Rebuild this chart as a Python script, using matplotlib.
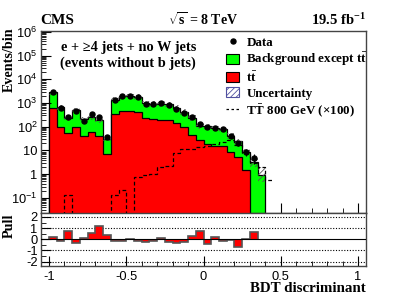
import numpy as np
import matplotlib
matplotlib.use("Agg")
import matplotlib.pyplot as plt
from matplotlib.ticker import FixedLocator, FixedFormatter, MultipleLocator, LogLocator, NullFormatter
from matplotlib.patches import Patch
from matplotlib.lines import Line2D

plt.rcParams['font.family'] = ['Liberation Sans', 'DejaVu Sans']
plt.rcParams['axes.unicode_minus'] = False
plt.rcParams['mathtext.fontset'] = 'custom'
plt.rcParams['mathtext.rm'] = 'Liberation Serif:bold'
plt.rcParams['mathtext.bf'] = 'Liberation Serif:bold'
plt.rcParams['mathtext.it'] = 'Liberation Serif:bold:italic'
plt.rcParams['hatch.linewidth'] = 0.6

# ---- data (bins of width 0.05 starting at -1) ----
bin_width = 0.05
x_start = -1.0
ttbar = [600, 95, 53, 98, 42, 62, 42, 7, 340, 470, 460, 440, 235, 215, 200, 188,
         145, 95, 47, 29, 19, 16, 16, 9, 5.5, 1.5, 0, 0, 0]
other_bkg = [2250, 595, 187, 412, 168, 208, 153, 25, 1060, 1480, 1490, 1410, 765, 735,
             750, 712, 505, 335, 198, 83, 91, 72, 66, 33, 18.5, 7.5, 3.2, 0.93, 0]
data = [2800, 600, 265, 480, 183, 330, 250, 38, 1350, 1900, 1980, 1780, 920, 910, 980,
        840, 580, 390, 262, 132, 98, 92, 78, 41, 20, 9, 5, 0, 0]
unc_up = [0.25] * 26 + [0.5, 1.25, 0]
unc_dn = [0.25] * 26 + [0.4, 0.5, 0]
signal_x100 = [0, 0, 0.13, 0, 0, 0, 0, 0, 0.13, 0.21, 0, 0.79, 0.95, 1.0, 1.95, 2.2,
               7.5, 11.5, 11.7, 13.5, 15.5, 18.7, 23, 28, 17, 8, 3, 2.1, 0.55]
pull = [0.18, -0.2, 0.76, -0.36, 0.15, 0.6, 1.18, 0.4, -0.12, -0.15, 0.05, -0.12, -0.27,
        -0.12, 0.12, -0.24, -0.33, -0.27, 0.27, 0.7, -0.45, 0.24, -0.15, -0.06, -0.7,
        0.0, 0.64]

ytick_vals = [0.1, 1, 10, 1e2, 1e3, 1e4, 1e5, 1e6]
ytick_labels = [r'$\mathregular{10^{-1}}$', '1', '10', r'$\mathregular{10^{2}}$',
                r'$\mathregular{10^{3}}$', r'$\mathregular{10^{4}}$',
                r'$\mathregular{10^{5}}$', r'$\mathregular{10^{6}}$']
xtick_vals = [-1, -0.5, 0, 0.5, 1]
xtick_labels = ['-1', '-0.5', '0', '0.5', '1']
pull_ticks = [-2, -1, 0, 1, 2]

# ---- derived ----
nb = len(ttbar)
edges = x_start + bin_width * np.arange(nb + 1)
centers = 0.5 * (edges[:-1] + edges[1:])
tt = np.array(ttbar, float)
ob = np.array(other_bkg, float)
total = tt + ob
d = np.array(data, float)
sig = np.array(signal_x100, float)
uu = np.array(unc_up, float)
ud = np.array(unc_dn, float)
floor = 1e-4

W, H = 407, 303
fig = plt.figure(figsize=(W / 100, H / 100), dpi=100)
L, R = 41 / W, 366 / W
ax = fig.add_axes([L, (H - 212.5) / H, R - L, (212.5 - 31) / H])
ax2 = fig.add_axes([L, (H - 266) / H, R - L, (266 - 212.5) / H])

ax.set_yscale('log')
ax.set_xlim(-1.052, 1.052)
ax.set_ylim(0.0242, 1.1e6)

GREEN = '#00ff00'
RED = '#ff0000'
tot_m = np.where(total > 0, total, floor)
tt_m = np.where(tt > 0, tt, floor)
ax.stairs(tot_m, edges, baseline=floor, fill=True, color=GREEN, zorder=1)
ax.stairs(tot_m, edges, baseline=floor, color='black', lw=0.9, zorder=2)
ax.stairs(tt_m, edges, baseline=floor, fill=True, color=RED, zorder=3)
ax.stairs(tt_m, edges, baseline=floor, color='black', lw=0.9, zorder=4)

up = total * (1 + uu)
lo = np.maximum(total * (1 - ud), floor)
sel = total > 0
ax.stairs(np.where(sel, up, floor), edges, baseline=np.where(sel, lo, floor), fill=True,
          facecolor='none', edgecolor='#555555', hatch='//////', lw=0, zorder=5)

sig_m = np.where(sig > 0, sig, floor)
ax.stairs(sig_m, edges, baseline=None, color='black', lw=0.9, ls=(0, (3, 2)), zorder=6)

m = d > 0
ax.errorbar(centers[m], d[m], yerr=np.sqrt(d[m]), fmt='o', ms=3.6, color='black',
            elinewidth=0.8, capsize=0, zorder=7)

ax.yaxis.set_major_locator(FixedLocator(ytick_vals))
ax.yaxis.set_major_formatter(FixedFormatter(ytick_labels))
ax.yaxis.set_minor_locator(LogLocator(base=10, subs=np.arange(2, 10), numticks=20))
ax.yaxis.set_minor_formatter(NullFormatter())
ax.xaxis.set_major_locator(MultipleLocator(0.5))
ax.xaxis.set_minor_locator(MultipleLocator(0.1))
ax.tick_params(axis='x', labelbottom=False)

for a in (ax, ax2):
    a.tick_params(which='major', direction='in', length=7, width=0.8, labelsize=9.3,
                  colors='black', top=False, right=False, pad=2.5)
    a.tick_params(which='minor', direction='in', length=3.5, width=0.6, top=False, right=False)
    for s in a.spines.values():
        s.set_color('#444444')
        s.set_linewidth(1.0)

# pull panel
pl = np.array(pull, float)
pedges = edges[:len(pl) + 1]
ax2.set_xlim(-1.052, 1.052)
ax2.set_ylim(-2.4, 2.4)
for yv in (-2, -1, 1, 2):
    ax2.axhline(yv, color='black', lw=0.8, ls=(0, (1, 1.5)), zorder=1)
ax2.stairs(pl, pedges, baseline=0, fill=True, color=RED, zorder=2)
ax2.stairs(pl, pedges, baseline=0, color='#555555', lw=1.2, zorder=3)
ax2.axhline(0, color='black', lw=0.8, zorder=4)
ax2.set_yticks(pull_ticks)
ax2.set_yticklabels([str(v) for v in pull_ticks])
ax2.yaxis.set_minor_locator(MultipleLocator(0.5))
ax2.set_xticks(xtick_vals)
ax2.set_xticklabels(xtick_labels)
ax2.xaxis.set_minor_locator(MultipleLocator(0.1))
ax2.tick_params(axis='x', pad=3.5)

serif = ['Liberation Serif', 'DejaVu Serif']
fig.text(9.5 / W, 1 - 27 / H, 'Events/bin', rotation=90, ha='center', va='top',
         fontsize=10.2, fontweight='bold', family=serif)
fig.text(9.5 / W, 1 - 213 / H, 'Pull', rotation=90, ha='center', va='top',
         fontsize=10.2, fontweight='bold', family=serif)
fig.text(366 / W, 1 - 289 / H, 'BDT discriminant', ha='right', va='center',
         fontsize=10.8, fontweight='bold', family=serif)

fig.text(40.5 / W, 1 - 20 / H, 'CMS', ha='left', va='center', fontsize=11,
         fontweight='bold', family=serif)
fig.text(203 / W, 1 - 20 / H, r'$\sqrt{\mathbf{s}}$ = 8 TeV', ha='center', va='center',
         fontsize=10, fontweight='bold', family=serif)
fig.text(366 / W, 1 - 20 / H, r'19.5 fb$^{\mathbf{-1}}$', ha='right', va='center',
         fontsize=10.5, fontweight='bold', family=serif)

fig.text(129 / W, 1 - 47 / H, 'e + ≥4 jets + no W jets', ha='center', va='center',
         fontsize=10.4, fontweight='bold', family=serif)
fig.text(128 / W, 1 - 63.5 / H, '(events without b jets)', ha='center', va='center',
         fontsize=10.4, fontweight='bold', family=serif)

handles = [
    Line2D([], [], marker='o', ls='none', color='black', ms=3.6),
    Patch(facecolor=GREEN, edgecolor='black', lw=0.8),
    Patch(facecolor=RED, edgecolor='black', lw=0.8),
    Patch(facecolor='white', edgecolor='#5050a0', hatch='//////', lw=0.8),
    Line2D([], [], color='black', lw=0.9, ls=(0, (2, 2))),
]
labels = ['Data', r'Background except $\mathbf{t\bar{t}}$', r'$\mathbf{t\bar{t}}$',
          'Uncertainty', r'T$\mathbf{\bar{T}}$ 800 GeV (×100)']
leg = ax.legend(handles, labels, loc='upper left', bbox_to_anchor=((226 - 41) / 325, 0.972),
                frameon=False, prop={'family': serif, 'weight': 'bold', 'size': 9.4},
                handlelength=1.0, handleheight=0.8, handletextpad=0.55, labelspacing=0.17,
                borderaxespad=0.0, borderpad=0.0)

fig.savefig('out.png', dpi=100)
